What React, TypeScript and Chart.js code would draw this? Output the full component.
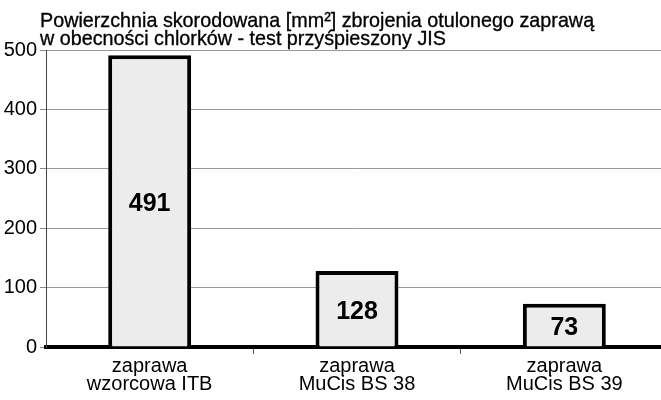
import React, { useEffect, useRef } from 'react';
import { Chart, registerables } from 'chart.js';

Chart.register(...registerables);

const titleLines = [
  'Powierzchnia skorodowana [mm²] zbrojenia otulonego zaprawą',
  'w obecności chlorków - test przyśpieszony JIS',
];
const categories = [
  ['zaprawa', 'wzorcowa ITB'],
  ['zaprawa', 'MuCis BS 38'],
  ['zaprawa', 'MuCis BS 39'],
];
const values = [491, 128, 73];
const yMin = 0;
const yMax = 500;
const yStep = 100;

const FONT = '"Liberation Sans", Arial, Helvetica, sans-serif';

export default function App() {
  const ref = useRef<HTMLCanvasElement>(null);

  useEffect(() => {
    if (!ref.current) return;

    const titlePlugin = {
      id: 'titleText',
      afterDraw(chart: any) {
        const ctx = chart.ctx;
        ctx.save();
        ctx.font = `21px ${FONT}`;
        ctx.fillStyle = '#000';
        ctx.strokeStyle = '#000';
        ctx.lineWidth = 0.35;
        ctx.textAlign = 'left';
        ctx.textBaseline = 'alphabetic';
        ctx.translate(40, 0);
        ctx.scale(0.94, 1);
        ctx.fillText(titleLines[0], 0, 27);
        ctx.strokeText(titleLines[0], 0, 27);
        ctx.fillText(titleLines[1], 0, 45);
        ctx.strokeText(titleLines[1], 0, 45);
        ctx.restore();
      },
    };

    const valueLabels = {
      id: 'valueLabels',
      afterDatasetsDraw(chart: any) {
        const ctx = chart.ctx;
        const meta = chart.getDatasetMeta(0);
        ctx.save();
        ctx.font = `bold 25px ${FONT}`;
        ctx.fillStyle = '#000';
        ctx.textAlign = 'center';
        ctx.textBaseline = 'middle';
        meta.data.forEach((el: any, i: number) => {
          const { x, y, base } = el.getProps(['x', 'y', 'base'], true);
          ctx.fillText(String(values[i]), x, (y + base) / 2 + 3);
        });
        ctx.restore();
      },
    };

    const chart = new Chart(ref.current, {
      type: 'bar',
      data: {
        labels: categories,
        datasets: [
          {
            data: values,
            backgroundColor: '#ececec',
            borderColor: '#000',
            borderWidth: 4,
            borderSkipped: 'bottom',
            barPercentage: 0.4,
            categoryPercentage: 1,
          },
        ],
      },
      options: {
        animation: false,
        responsive: false,
        devicePixelRatio: 1,
        layout: { padding: { top: 50, right: 0, bottom: 0, left: 0 } },
        plugins: {
          legend: { display: false },
          tooltip: { enabled: false },
          title: { display: false },
        },
        scales: {
          x: {
            offset: true,
            afterFit(scale: any) {
              scale.height = 53;
            },
            grid: {
              display: true,
              offset: true,
              drawOnChartArea: false,
              drawTicks: true,
              tickLength: 7,
              color: (c: any) => (c.index === 0 ? 'rgba(0,0,0,0)' : '#555'),
            },
            border: { display: true, color: '#000', width: 4 },
            ticks: {
              color: '#000',
              font: { family: FONT, size: 20, lineHeight: 0.92 },
              padding: 3,
              maxRotation: 0,
              autoSkip: false,
            },
          },
          y: {
            min: yMin,
            max: yMax,
            afterFit(scale: any) {
              scale.width = 46;
            },
            grid: {
              color: (c: any) => (c.tick && c.tick.value === 0 ? 'rgba(0,0,0,0)' : '#999'),
              tickColor: '#888',
              lineWidth: 1,
              tickLength: 6,
            },
            border: { display: true, color: '#444', width: 1 },
            ticks: {
              stepSize: yStep,
              color: '#000',
              font: { family: FONT, size: 20 },
              padding: 3,
            },
          },
        },
      },
      plugins: [titlePlugin, valueLabels],
    });

    return () => chart.destroy();
  }, []);

  return (
    <div
      style={{
        position: 'absolute',
        left: 0,
        top: 0,
        width: 661,
        height: 400,
        overflow: 'hidden',
        background: '#fff',
      }}
    >
      <canvas ref={ref} width={668} height={400} style={{ display: 'block' }} />
    </div>
  );
}
